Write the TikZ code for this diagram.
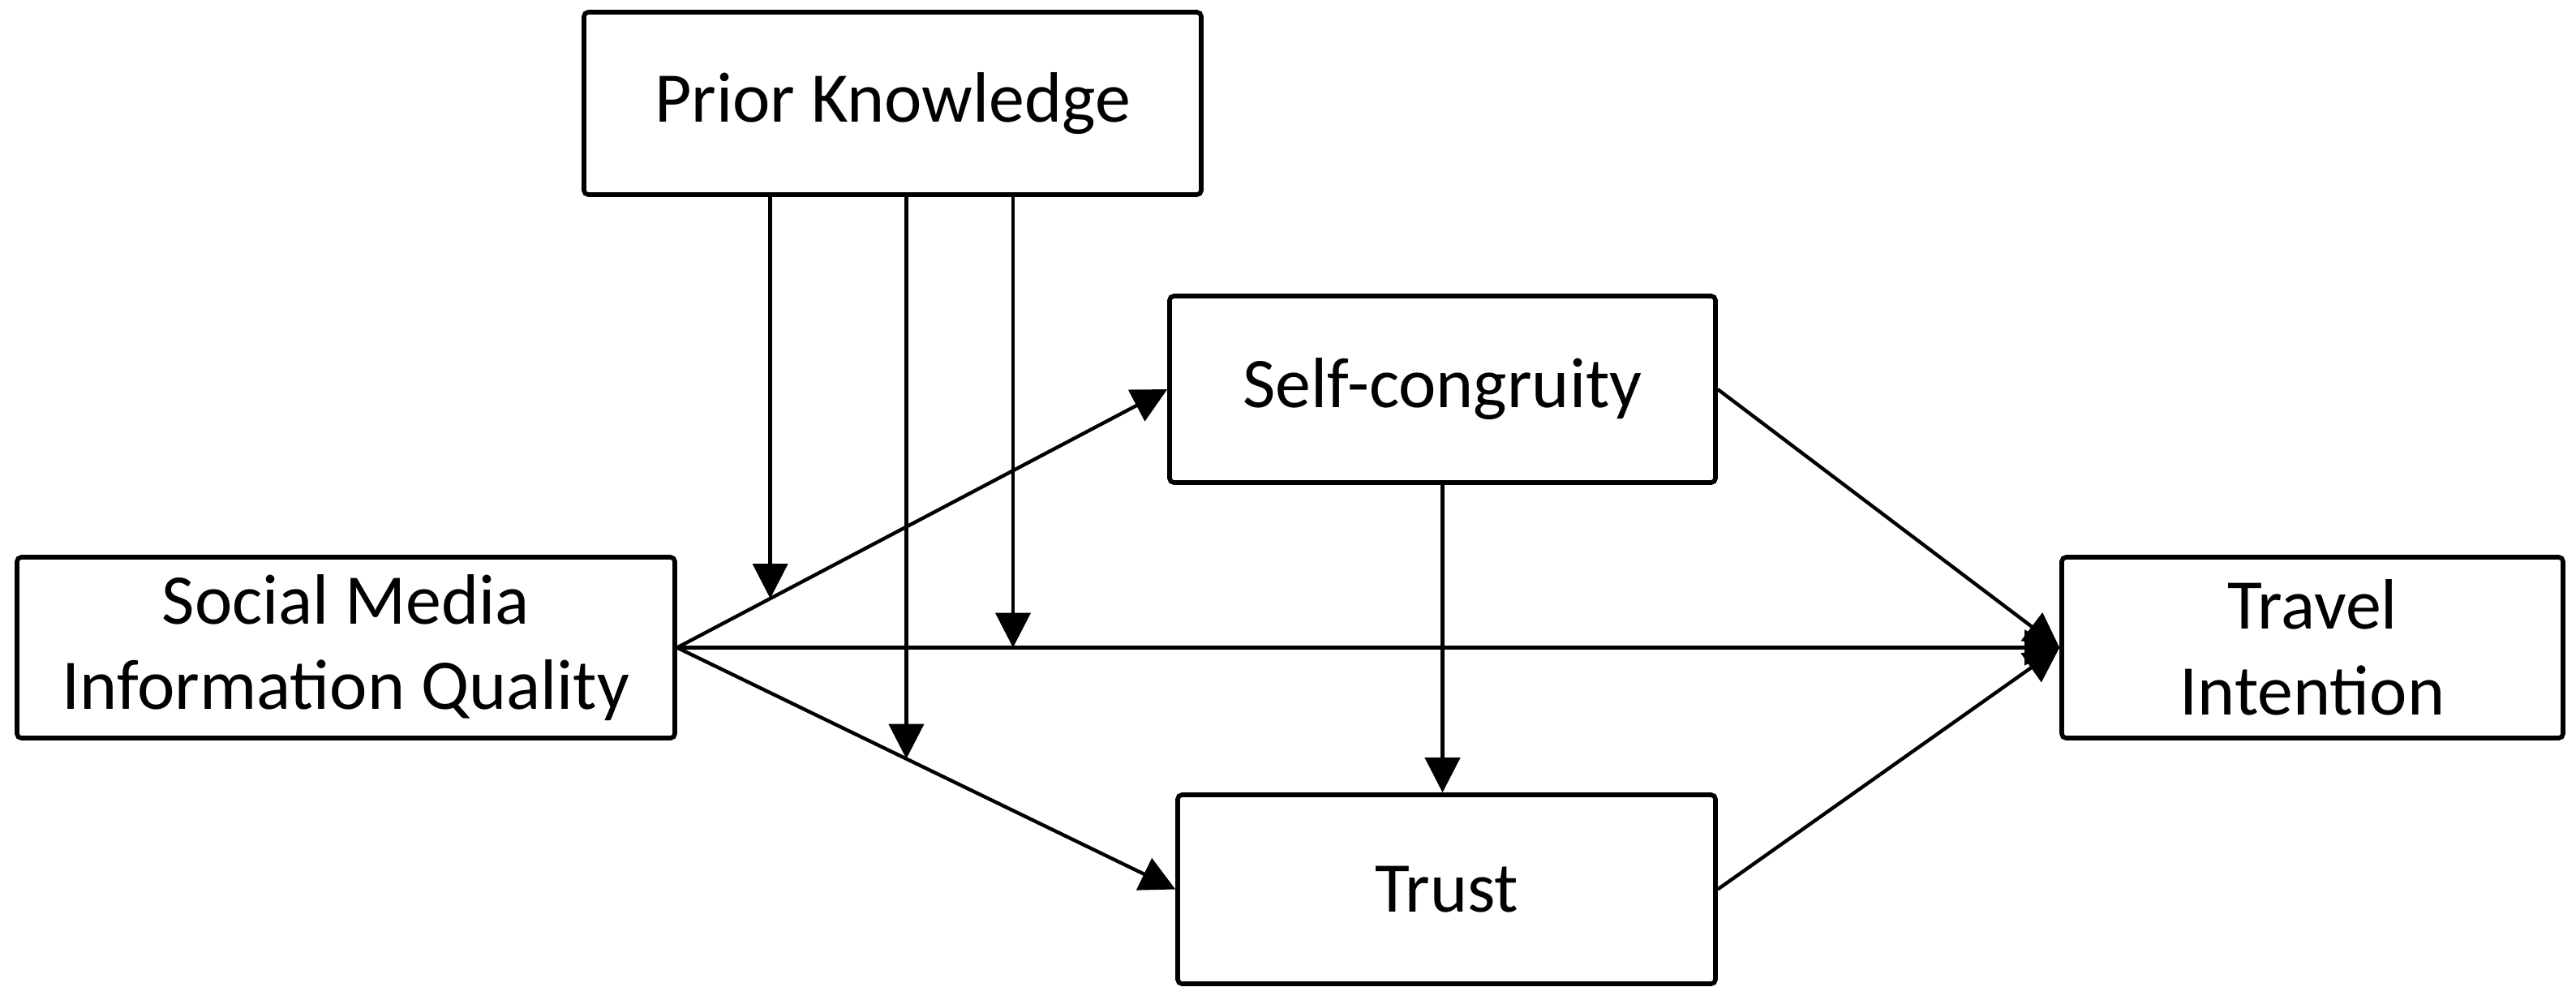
\documentclass[tikz,border=0pt]{standalone}
\usepackage{fontspec}
\setmainfont{Carlito}
\usepackage{tikz}
\usetikzlibrary{arrows.meta,calc,positioning}

\begin{document}
\begin{tikzpicture}[
  box/.style = {draw, line width = 1.6pt, shape = rectangle, rounded corners = 1.5pt, align = center, inner sep = 0pt, font = \fontsize{25}{30}\selectfont},
  link/.style = {line width = 1.25pt, -{Triangle[length = 0.43cm, width = 0.43cm]}}
]
\useasboundingbox (0,0) rectangle (31.76,-12.32);
\node[box, minimum width = 7.61cm, minimum height = 2.25cm] (pk) at (11.005,-1.275) {Prior Knowledge};
\node[box, minimum width = 8.11cm, minimum height = 2.23cm] (smiq) at (4.265,-7.985) {Social Media\\Information Quality};
\node[box, minimum width = 6.73cm, minimum height = 2.30cm] (self) at (17.785,-4.80) {Self-congruity};
\node[box, minimum width = 6.63cm, minimum height = 2.33cm] (trust) at (17.835,-10.965) {Trust};
\node[box, minimum width = 6.18cm, minimum height = 2.23cm] (ti) at (28.51,-7.985) {Travel\\Intention};

% direct paths
\draw[link] (smiq.east) -- (self.west);
\draw[link] (smiq.east) -- (trust.west);
\draw[link] (smiq.east) -- (ti.west);
\draw[link] (self.east) -- (ti.west);
\draw[link] (trust.east) -- (ti.west);
\draw[link] (self.south) -- (self.south |- trust.north);

% moderating paths
\coordinate (m1) at ($(smiq.east)!0.19!(self.west)$);
\coordinate (m2) at ($(smiq.east)!0.46!(trust.west)$);
\coordinate (m3) at ($(smiq.east)!0.243!(ti.west)$);
\draw[link] (pk.south -| m1) -- (m1);
\draw[link] (pk.south -| m2) -- (m2);
\draw[link] (pk.south -| m3) -- (m3);
\end{tikzpicture}
\end{document}
